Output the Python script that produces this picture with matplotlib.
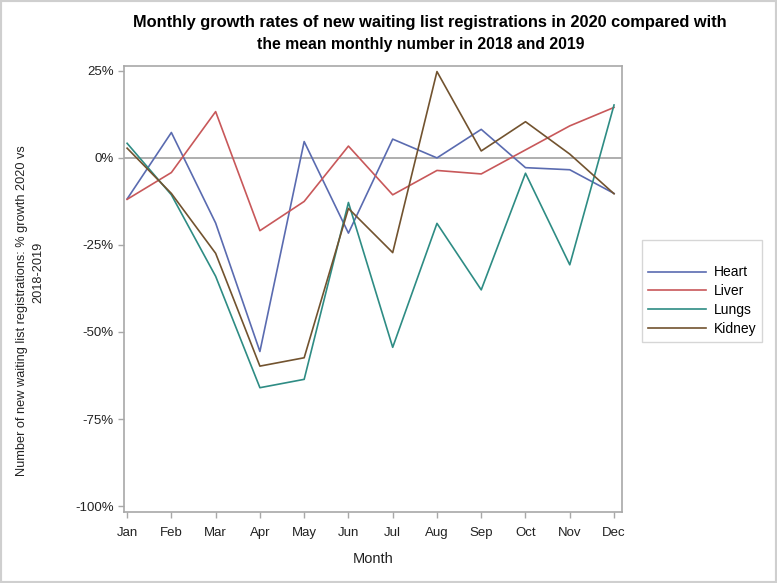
import matplotlib
matplotlib.use("Agg")
import matplotlib.pyplot as plt
from matplotlib.ticker import FuncFormatter
from matplotlib.patches import Rectangle

months = ["Jan", "Feb", "Mar", "Apr", "May", "Jun", "Jul", "Aug", "Sep", "Oct", "Nov", "Dec"]
heart = [-11.8, 7.3, -18.7, -55.6, 4.7, -21.6, 5.4, 0.0, 8.2, -2.8, -3.4, -10.2]
liver = [-11.9, -4.2, 13.3, -20.9, -12.5, 3.4, -10.6, -3.6, -4.6, 2.3, 9.2, 14.5]
lungs = [4.2, -10.6, -34.0, -66.0, -63.6, -12.8, -54.4, -18.8, -37.9, -4.4, -30.7, 15.2]
kidney = [2.8, -10.2, -27.4, -59.8, -57.4, -14.5, -27.2, 24.8, 2.0, 10.4, 1.1, -10.3]
series_names = ["Heart", "Liver", "Lungs", "Kidney"]
yticks = [25, 0, -25, -50, -75, -100]

colors = ["#5a6bb0", "#c8585a", "#2e8c84", "#72532f"]
plain = ["Liberation Sans", "DejaVu Sans"]

W, H = 777, 583
fig = plt.figure(figsize=(W / 100, H / 100), dpi=100)
ax = fig.add_axes([124 / W, 1 - 512 / H, (622 - 124) / W, (512 - 66) / H])

x = list(range(len(months)))
for name, vals, c in zip(series_names, [heart, liver, lungs, kidney], colors):
    ax.plot(x, vals, color=c, lw=1.2, label=name)

ax.axhline(0, color="#a8a8a8", lw=1.3, zorder=0)
ax.set_xlim(-0.07, 11.18)
ax.set_ylim(-101.7, 26.4)
ax.set_yticks(yticks)
ax.yaxis.set_major_formatter(FuncFormatter(lambda v, p: f"{int(v)}%"))
ax.set_xticks(x)
ax.set_xticklabels(months)
for s in ax.spines.values():
    s.set_color("#a8a8a8")
    s.set_linewidth(1.2)
ax.tick_params(colors="#a8a8a8", labelcolor="#222222", length=4, width=1, labelsize=9.5)
ax.tick_params(axis="x", pad=7)
for lab in ax.get_xticklabels() + ax.get_yticklabels():
    lab.set_family(plain)

ax.set_xlabel("Month", family=plain, fontsize=10.5, color="#222222", labelpad=9)

fig.text(22 / W, 1 - 311 / H,
         "Number of new waiting list registrations: % growth 2020 vs",
         rotation=90, ha="center", va="center", family=plain, fontsize=9.2,
         color="#222222")
fig.text(38 / W, 1 - 272 / H, "2018-2019",
         rotation=90, ha="center", va="center", family=plain, fontsize=9.2,
         color="#222222")

fig.text(430 / W, 1 - 23 / H,
         "Monthly growth rates of new waiting list registrations in 2020 compared with",
         ha="center", va="center", family=plain, fontsize=11.8, fontweight="bold",
         color="#000000")
fig.text(421 / W, 1 - 45 / H,
         "the mean monthly number in 2018 and 2019",
         ha="center", va="center", family=plain, fontsize=11.3, fontweight="bold",
         color="#000000")

leg = fig.legend(loc="upper left", bbox_to_anchor=(642 / W, 1 - 240 / H),
                 frameon=True, fancybox=False, prop={"family": plain, "size": 10},
                 handlelength=4.2, handletextpad=0.6, labelspacing=0.35,
                 borderpad=0.4, borderaxespad=0, title=" ", title_fontsize=10.5)
leg.get_frame().set_edgecolor("#cccccc")
leg.get_frame().set_linewidth(1)

fig.patches.append(Rectangle((0, 0), 1, 1, transform=fig.transFigure, fill=False,
                             edgecolor="#cfcfcf", lw=3))

fig.savefig("out.png", dpi=100)
